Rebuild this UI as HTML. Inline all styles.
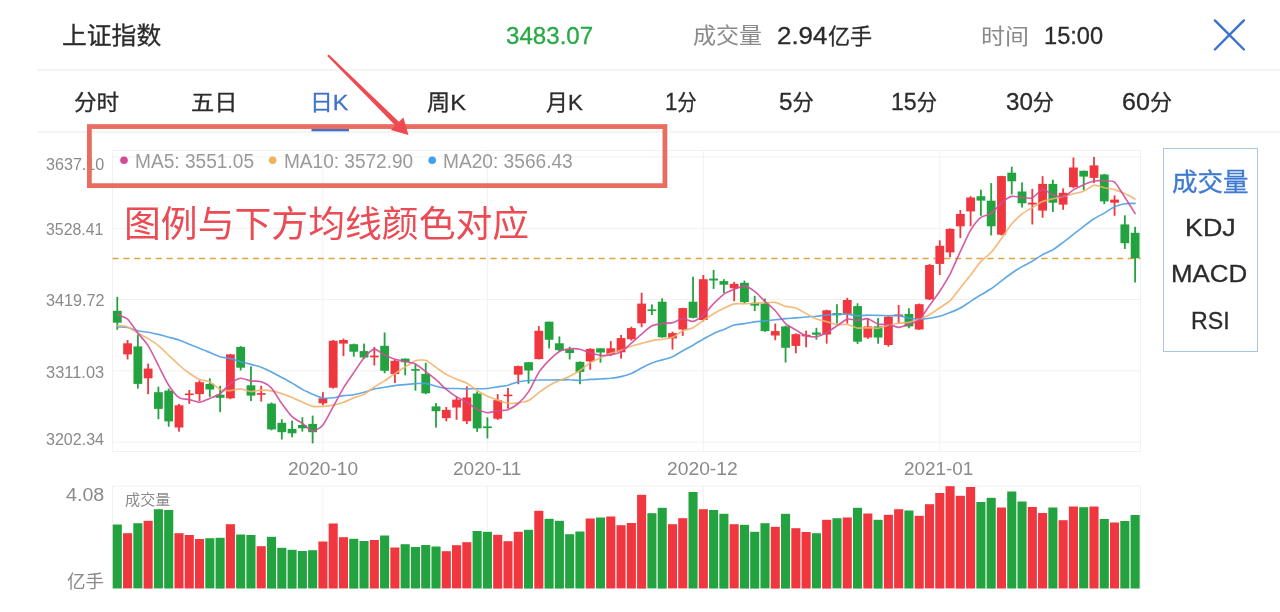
<!DOCTYPE html><html lang="zh"><head><meta charset="utf-8"><title>上证指数</title><style>
html,body{margin:0;padding:0;background:#fff}
body{width:1280px;height:612px;position:relative;overflow:hidden;font-family:"Liberation Sans","Noto Sans CJK SC",sans-serif}
.chart{position:absolute;left:0;top:0}
.t{position:absolute;white-space:nowrap;line-height:1;transform-origin:0 50%}
.b{-webkit-text-stroke:0.3px currentColor}
.n{font-size:114%;line-height:0}.k{font-size:102%;line-height:0}
</style></head><body>
<svg class="chart" width="1280" height="612" viewBox="0 0 1280 612">
<g fill="none" stroke="#f1f1f1" stroke-width="1">
<rect x="112.5" y="150.5" width="1028.0" height="301.0"/>
<line x1="112.5" y1="156.9" x2="1140.5" y2="156.9"/>
<line x1="112.5" y1="228.2" x2="1140.5" y2="228.2"/>
<line x1="112.5" y1="299.5" x2="1140.5" y2="299.5"/>
<line x1="112.5" y1="370.8" x2="1140.5" y2="370.8"/>
<line x1="112.5" y1="442.2" x2="1140.5" y2="442.2"/>
<line x1="322.9" y1="150.5" x2="322.9" y2="451.5"/>
<line x1="322.9" y1="486.0" x2="322.9" y2="588.5"/>
<line x1="487.4" y1="150.5" x2="487.4" y2="451.5"/>
<line x1="487.4" y1="486.0" x2="487.4" y2="588.5"/>
<line x1="703.3" y1="150.5" x2="703.3" y2="451.5"/>
<line x1="703.3" y1="486.0" x2="703.3" y2="588.5"/>
<line x1="939.8" y1="150.5" x2="939.8" y2="451.5"/>
<line x1="939.8" y1="486.0" x2="939.8" y2="588.5"/>
<path d="M112.5 588.5V486.0H1140.5V588.5"/>
</g>
<line x1="112.5" y1="258.5" x2="1140.5" y2="258.5" stroke="#dea544" stroke-width="1.6" stroke-dasharray="6.2 4.6"/>
<g fill="#22a33f" stroke="none">
<rect x="116.40" y="296.9" width="1.8" height="32.8"/>
<rect x="112.90" y="310.8" width="8.8" height="11.9"/>
<rect x="136.96" y="334.4" width="1.8" height="54.2"/>
<rect x="133.46" y="346.4" width="8.8" height="37.5"/>
<rect x="157.52" y="386.7" width="1.8" height="32.5"/>
<rect x="154.02" y="392.2" width="8.8" height="16.7"/>
<rect x="167.80" y="388.6" width="1.8" height="38.1"/>
<rect x="164.30" y="390.6" width="8.8" height="30.8"/>
<rect x="208.93" y="378.3" width="1.8" height="18.6"/>
<rect x="205.43" y="383.9" width="8.8" height="5.6"/>
<rect x="219.21" y="385.8" width="1.8" height="26.4"/>
<rect x="215.71" y="394.7" width="8.8" height="3.1"/>
<rect x="239.77" y="346.1" width="1.8" height="24.4"/>
<rect x="236.27" y="346.9" width="8.8" height="20.8"/>
<rect x="250.05" y="366.4" width="1.8" height="34.7"/>
<rect x="246.55" y="385.3" width="8.8" height="10.3"/>
<rect x="270.62" y="402.5" width="1.8" height="27.8"/>
<rect x="267.12" y="403.6" width="8.8" height="25.8"/>
<rect x="280.90" y="419.2" width="1.8" height="20.3"/>
<rect x="277.40" y="422.8" width="8.8" height="9.4"/>
<rect x="291.18" y="420.6" width="1.8" height="16.7"/>
<rect x="287.68" y="428.9" width="8.8" height="4.4"/>
<rect x="301.46" y="417.2" width="1.8" height="14.4"/>
<rect x="297.96" y="425.0" width="8.8" height="3.3"/>
<rect x="311.74" y="415.6" width="1.8" height="27.8"/>
<rect x="308.24" y="423.9" width="8.8" height="8.3"/>
<rect x="352.86" y="343.6" width="1.8" height="13.1"/>
<rect x="349.36" y="344.2" width="8.8" height="7.5"/>
<rect x="363.14" y="343.6" width="1.8" height="15.3"/>
<rect x="359.64" y="351.1" width="8.8" height="6.4"/>
<rect x="383.71" y="332.5" width="1.8" height="40.8"/>
<rect x="380.21" y="345.8" width="8.8" height="25.0"/>
<rect x="404.27" y="358.6" width="1.8" height="16.7"/>
<rect x="400.77" y="358.6" width="8.8" height="3.6"/>
<rect x="414.55" y="364.2" width="1.8" height="26.4"/>
<rect x="411.05" y="369.1" width="8.8" height="1.6"/>
<rect x="424.83" y="362.8" width="1.8" height="31.4"/>
<rect x="421.33" y="373.9" width="8.8" height="19.4"/>
<rect x="435.11" y="403.0" width="1.8" height="24.6"/>
<rect x="431.61" y="406.4" width="8.8" height="4.8"/>
<rect x="476.24" y="391.5" width="1.8" height="40.4"/>
<rect x="472.74" y="393.5" width="8.8" height="34.9"/>
<rect x="486.52" y="417.3" width="1.8" height="21.1"/>
<rect x="483.02" y="426.4" width="8.8" height="1.7"/>
<rect x="527.64" y="361.9" width="1.8" height="21.7"/>
<rect x="524.14" y="362.2" width="8.8" height="8.3"/>
<rect x="548.20" y="321.7" width="1.8" height="26.7"/>
<rect x="544.70" y="321.7" width="8.8" height="18.1"/>
<rect x="558.48" y="336.4" width="1.8" height="15.3"/>
<rect x="554.98" y="343.3" width="8.8" height="6.9"/>
<rect x="568.76" y="346.7" width="1.8" height="12.8"/>
<rect x="565.26" y="349.4" width="8.8" height="3.6"/>
<rect x="579.05" y="361.4" width="1.8" height="22.8"/>
<rect x="575.55" y="361.9" width="8.8" height="10.0"/>
<rect x="599.61" y="348.3" width="1.8" height="14.4"/>
<rect x="596.11" y="348.3" width="8.8" height="4.2"/>
<rect x="651.01" y="304.4" width="1.8" height="10.6"/>
<rect x="647.51" y="309.4" width="8.8" height="1.7"/>
<rect x="661.29" y="298.3" width="1.8" height="39.4"/>
<rect x="657.79" y="301.7" width="8.8" height="35.6"/>
<rect x="692.14" y="276.7" width="1.8" height="41.7"/>
<rect x="688.64" y="301.7" width="8.8" height="16.1"/>
<rect x="712.70" y="270.0" width="1.8" height="18.9"/>
<rect x="709.20" y="278.6" width="8.8" height="1.9"/>
<rect x="722.98" y="279.2" width="1.8" height="13.9"/>
<rect x="719.48" y="281.1" width="8.8" height="3.6"/>
<rect x="743.54" y="280.6" width="1.8" height="22.8"/>
<rect x="740.04" y="282.8" width="8.8" height="19.4"/>
<rect x="753.82" y="295.8" width="1.8" height="15.3"/>
<rect x="750.32" y="302.8" width="8.8" height="2.8"/>
<rect x="764.10" y="298.6" width="1.8" height="33.3"/>
<rect x="760.60" y="303.6" width="8.8" height="27.5"/>
<rect x="784.66" y="325.6" width="1.8" height="36.9"/>
<rect x="781.16" y="326.4" width="8.8" height="21.4"/>
<rect x="815.51" y="327.8" width="1.8" height="11.9"/>
<rect x="812.01" y="332.5" width="8.8" height="2.2"/>
<rect x="836.07" y="304.2" width="1.8" height="19.4"/>
<rect x="832.57" y="313.1" width="8.8" height="2.2"/>
<rect x="856.63" y="303.3" width="1.8" height="40.6"/>
<rect x="853.13" y="306.1" width="8.8" height="35.6"/>
<rect x="877.19" y="318.1" width="1.8" height="25.6"/>
<rect x="873.69" y="326.4" width="8.8" height="11.1"/>
<rect x="908.04" y="308.3" width="1.8" height="20.0"/>
<rect x="904.54" y="313.9" width="8.8" height="12.5"/>
<rect x="980.00" y="189.7" width="1.8" height="26.1"/>
<rect x="976.50" y="196.2" width="8.8" height="4.4"/>
<rect x="990.29" y="183.1" width="1.8" height="52.3"/>
<rect x="986.79" y="200.7" width="8.8" height="25.6"/>
<rect x="1010.85" y="166.7" width="1.8" height="27.7"/>
<rect x="1007.35" y="172.7" width="8.8" height="8.6"/>
<rect x="1021.13" y="182.4" width="1.8" height="25.1"/>
<rect x="1017.63" y="191.5" width="8.8" height="11.8"/>
<rect x="1051.97" y="179.7" width="1.8" height="32.2"/>
<rect x="1048.47" y="183.9" width="8.8" height="18.8"/>
<rect x="1082.81" y="170.6" width="1.8" height="19.6"/>
<rect x="1079.31" y="170.8" width="8.8" height="5.8"/>
<rect x="1103.38" y="174.0" width="1.8" height="30.1"/>
<rect x="1099.88" y="174.5" width="8.8" height="26.9"/>
<rect x="1123.94" y="215.3" width="1.8" height="33.7"/>
<rect x="1120.44" y="224.4" width="8.8" height="18.8"/>
<rect x="1134.22" y="226.8" width="1.8" height="55.7"/>
<rect x="1130.72" y="232.8" width="8.8" height="25.4"/>
</g>
<g fill="#f0363e" stroke="none">
<rect x="126.68" y="340.0" width="1.8" height="19.4"/>
<rect x="123.18" y="343.3" width="8.8" height="11.1"/>
<rect x="147.24" y="363.6" width="1.8" height="30.6"/>
<rect x="143.74" y="368.6" width="8.8" height="9.7"/>
<rect x="178.09" y="403.9" width="1.8" height="27.8"/>
<rect x="174.59" y="405.3" width="8.8" height="22.2"/>
<rect x="188.37" y="390.0" width="1.8" height="13.9"/>
<rect x="184.87" y="393.5" width="8.8" height="1.6"/>
<rect x="198.65" y="380.3" width="1.8" height="20.8"/>
<rect x="195.15" y="382.2" width="8.8" height="11.9"/>
<rect x="229.49" y="353.9" width="1.8" height="45.3"/>
<rect x="225.99" y="354.4" width="8.8" height="43.9"/>
<rect x="260.33" y="385.8" width="1.8" height="15.8"/>
<rect x="256.83" y="393.1" width="8.8" height="1.7"/>
<rect x="322.02" y="392.2" width="1.8" height="13.1"/>
<rect x="318.52" y="398.3" width="8.8" height="5.0"/>
<rect x="332.30" y="340.0" width="1.8" height="48.6"/>
<rect x="328.80" y="340.8" width="8.8" height="46.9"/>
<rect x="342.58" y="338.6" width="1.8" height="17.5"/>
<rect x="339.08" y="340.0" width="8.8" height="3.6"/>
<rect x="373.43" y="346.9" width="1.8" height="18.6"/>
<rect x="369.93" y="355.6" width="8.8" height="1.7"/>
<rect x="393.99" y="359.4" width="1.8" height="23.6"/>
<rect x="390.49" y="360.8" width="8.8" height="13.3"/>
<rect x="445.39" y="407.0" width="1.8" height="14.3"/>
<rect x="441.89" y="409.9" width="8.8" height="8.2"/>
<rect x="455.67" y="396.6" width="1.8" height="23.2"/>
<rect x="452.17" y="399.6" width="8.8" height="7.9"/>
<rect x="465.95" y="386.3" width="1.8" height="37.8"/>
<rect x="462.45" y="397.5" width="8.8" height="23.7"/>
<rect x="496.80" y="394.1" width="1.8" height="25.8"/>
<rect x="493.30" y="400.1" width="8.8" height="18.6"/>
<rect x="507.08" y="388.0" width="1.8" height="20.6"/>
<rect x="503.58" y="394.6" width="8.8" height="1.6"/>
<rect x="517.36" y="365.6" width="1.8" height="18.6"/>
<rect x="513.86" y="366.1" width="8.8" height="8.6"/>
<rect x="537.92" y="326.1" width="1.8" height="33.3"/>
<rect x="534.42" y="330.8" width="8.8" height="28.3"/>
<rect x="589.33" y="348.3" width="1.8" height="21.4"/>
<rect x="585.83" y="348.9" width="8.8" height="12.5"/>
<rect x="609.89" y="341.1" width="1.8" height="14.7"/>
<rect x="606.39" y="348.3" width="8.8" height="5.6"/>
<rect x="620.17" y="335.0" width="1.8" height="23.6"/>
<rect x="616.67" y="338.1" width="8.8" height="14.2"/>
<rect x="630.45" y="326.7" width="1.8" height="13.9"/>
<rect x="626.95" y="328.1" width="8.8" height="11.1"/>
<rect x="640.73" y="292.8" width="1.8" height="34.4"/>
<rect x="637.23" y="303.6" width="8.8" height="19.7"/>
<rect x="671.57" y="331.7" width="1.8" height="17.8"/>
<rect x="668.07" y="333.1" width="8.8" height="5.3"/>
<rect x="681.86" y="307.8" width="1.8" height="28.1"/>
<rect x="678.36" y="308.1" width="8.8" height="21.4"/>
<rect x="702.42" y="275.0" width="1.8" height="46.4"/>
<rect x="698.92" y="279.2" width="8.8" height="40.8"/>
<rect x="733.26" y="281.9" width="1.8" height="19.4"/>
<rect x="729.76" y="283.9" width="8.8" height="4.4"/>
<rect x="774.38" y="323.6" width="1.8" height="16.7"/>
<rect x="770.88" y="331.1" width="8.8" height="4.4"/>
<rect x="794.95" y="333.3" width="1.8" height="20.0"/>
<rect x="791.45" y="334.2" width="8.8" height="11.7"/>
<rect x="805.23" y="330.6" width="1.8" height="16.7"/>
<rect x="801.73" y="334.8" width="8.8" height="1.6"/>
<rect x="825.79" y="309.7" width="1.8" height="33.9"/>
<rect x="822.29" y="310.3" width="8.8" height="24.2"/>
<rect x="846.35" y="297.8" width="1.8" height="25.8"/>
<rect x="842.85" y="300.0" width="8.8" height="13.9"/>
<rect x="866.91" y="318.1" width="1.8" height="20.8"/>
<rect x="863.41" y="326.4" width="8.8" height="11.1"/>
<rect x="887.48" y="316.1" width="1.8" height="30.6"/>
<rect x="883.98" y="316.7" width="8.8" height="28.3"/>
<rect x="897.76" y="305.0" width="1.8" height="18.6"/>
<rect x="894.26" y="314.5" width="8.8" height="1.6"/>
<rect x="918.32" y="303.6" width="1.8" height="26.4"/>
<rect x="914.82" y="304.2" width="8.8" height="25.3"/>
<rect x="928.60" y="263.9" width="1.8" height="36.1"/>
<rect x="925.10" y="265.0" width="8.8" height="34.4"/>
<rect x="938.88" y="240.3" width="1.8" height="34.7"/>
<rect x="935.38" y="245.8" width="8.8" height="18.1"/>
<rect x="949.16" y="228.4" width="1.8" height="28.8"/>
<rect x="945.66" y="228.9" width="8.8" height="23.5"/>
<rect x="959.44" y="210.1" width="1.8" height="28.0"/>
<rect x="955.94" y="214.0" width="8.8" height="12.3"/>
<rect x="969.72" y="196.2" width="1.8" height="30.1"/>
<rect x="966.22" y="197.5" width="8.8" height="13.9"/>
<rect x="1000.57" y="175.8" width="1.8" height="59.6"/>
<rect x="997.07" y="176.1" width="8.8" height="58.6"/>
<rect x="1031.41" y="188.9" width="1.8" height="35.6"/>
<rect x="1027.91" y="202.7" width="8.8" height="1.8"/>
<rect x="1041.69" y="176.1" width="1.8" height="41.6"/>
<rect x="1038.19" y="183.9" width="8.8" height="26.7"/>
<rect x="1062.25" y="188.4" width="1.8" height="21.4"/>
<rect x="1058.75" y="192.8" width="8.8" height="11.8"/>
<rect x="1072.53" y="157.5" width="1.8" height="30.8"/>
<rect x="1069.03" y="167.5" width="8.8" height="19.6"/>
<rect x="1093.10" y="157.0" width="1.8" height="26.1"/>
<rect x="1089.60" y="165.4" width="8.8" height="12.5"/>
<rect x="1113.66" y="195.4" width="1.8" height="20.4"/>
<rect x="1110.16" y="199.6" width="8.8" height="3.1"/>
</g>
<path d="M117.3 326.9C118.4 327.0 125.3 327.1 127.6 327.5C129.8 327.9 135.6 330.3 137.9 330.8C140.1 331.4 145.9 331.8 148.1 332.2C150.4 332.6 156.2 333.9 158.4 334.4C160.7 335.0 166.4 336.6 168.7 337.2C171.0 337.8 176.7 339.2 179.0 340.0C181.2 340.8 187.0 343.2 189.3 344.2C191.5 345.1 197.3 347.4 199.5 348.3C201.8 349.2 207.6 351.6 209.8 352.5C212.1 353.4 217.8 356.0 220.1 356.7C222.4 357.3 228.1 358.1 230.4 358.6C232.7 359.2 238.4 361.0 240.7 361.7C242.9 362.3 248.7 363.8 251.0 364.4C253.2 365.1 259.0 366.4 261.2 367.2C263.5 368.0 269.3 370.8 271.5 371.9C273.8 373.1 279.5 376.3 281.8 377.5C284.1 378.7 289.8 381.7 292.1 383.1C294.3 384.4 300.1 388.2 302.4 389.4C304.6 390.7 310.4 393.2 312.6 394.2C314.9 395.1 320.7 397.6 322.9 398.0C325.2 398.4 330.9 398.1 333.2 397.8C335.5 397.6 341.2 396.0 343.5 395.6C345.7 395.3 351.5 395.2 353.8 394.8C356.0 394.4 361.8 392.9 364.0 392.2C366.3 391.6 372.1 389.5 374.3 388.9C376.6 388.4 382.3 387.6 384.6 387.2C386.9 386.8 392.6 385.9 394.9 385.6C397.1 385.3 402.9 384.8 405.2 384.6C407.4 384.4 413.2 383.8 415.4 383.6C417.7 383.5 423.5 383.1 425.7 383.4C428.0 383.7 433.7 385.7 436.0 386.2C438.3 386.8 444.0 388.1 446.3 388.3C448.6 388.6 454.3 388.5 456.6 388.5C458.8 388.6 464.6 388.8 466.9 388.8C469.1 388.8 474.9 388.7 477.1 388.7C479.4 388.7 485.2 388.7 487.4 388.5C489.7 388.3 495.4 387.2 497.7 386.9C500.0 386.5 505.7 385.7 508.0 385.2C510.2 384.6 516.0 382.4 518.3 381.9C520.5 381.3 526.3 380.7 528.5 380.5C530.8 380.3 536.6 380.0 538.8 380.0C541.1 379.9 546.8 380.0 549.1 380.0C551.4 379.9 557.1 379.9 559.4 379.9C561.6 379.9 567.4 379.6 569.7 379.7C571.9 379.7 577.7 380.5 579.9 380.5C582.2 380.5 588.0 379.6 590.2 379.4C592.5 379.2 598.2 379.1 600.5 379.0C602.8 378.8 608.5 378.5 610.8 378.3C613.0 378.0 618.8 377.2 621.1 376.6C623.3 376.1 629.1 374.3 631.4 373.4C633.6 372.4 639.4 369.1 641.6 368.0C643.9 366.9 649.7 364.0 651.9 363.1C654.2 362.2 659.9 360.6 662.2 359.9C664.5 359.3 670.2 357.7 672.5 356.7C674.7 355.7 680.5 352.0 682.8 350.7C685.0 349.4 690.8 346.5 693.0 345.2C695.3 343.9 701.1 340.4 703.3 339.1C705.6 337.9 711.3 334.5 713.6 333.4C715.9 332.4 721.6 330.3 723.9 329.4C726.1 328.5 731.9 325.7 734.2 325.0C736.4 324.4 742.2 324.0 744.4 323.6C746.7 323.3 752.5 322.2 754.7 321.9C757.0 321.6 762.7 321.2 765.0 320.9C767.3 320.7 773.0 320.1 775.3 319.8C777.5 319.6 783.3 318.9 785.6 318.6C787.8 318.4 793.6 318.1 795.8 317.9C798.1 317.7 803.9 317.2 806.1 317.0C808.4 316.9 814.1 316.6 816.4 316.3C818.7 316.1 824.4 315.2 826.7 315.0C829.0 314.7 834.7 314.4 837.0 314.3C839.2 314.2 845.0 314.0 847.3 314.1C849.5 314.3 855.3 315.6 857.5 315.7C859.8 315.8 865.6 315.2 867.8 315.1C870.1 315.1 875.8 315.3 878.1 315.3C880.4 315.4 886.1 315.7 888.4 315.8C890.6 315.8 896.4 315.4 898.7 315.6C900.9 315.9 906.7 317.6 908.9 318.0C911.2 318.4 917.0 319.1 919.2 319.2C921.5 319.2 927.2 318.5 929.5 318.2C931.8 317.9 937.5 316.9 939.8 316.3C942.0 315.7 947.8 313.5 950.1 312.6C952.3 311.7 958.1 309.3 960.3 308.0C962.6 306.8 968.4 302.8 970.6 301.4C972.9 299.9 978.6 296.2 980.9 294.8C983.2 293.4 988.9 290.3 991.2 288.8C993.4 287.2 999.2 282.6 1001.5 280.9C1003.7 279.1 1009.5 274.7 1011.7 273.2C1014.0 271.6 1019.8 267.9 1022.0 266.6C1024.3 265.3 1030.0 262.5 1032.3 261.2C1034.6 259.9 1040.3 255.9 1042.6 254.6C1044.9 253.4 1050.6 251.1 1052.9 249.8C1055.1 248.4 1060.9 244.0 1063.2 242.3C1065.4 240.7 1071.2 236.2 1073.4 234.4C1075.7 232.6 1081.5 228.1 1083.7 226.4C1086.0 224.6 1091.7 220.2 1094.0 218.8C1096.3 217.3 1102.0 214.4 1104.3 213.1C1106.5 211.8 1112.3 207.8 1114.6 206.8C1116.8 205.8 1122.6 204.1 1124.8 203.7C1127.1 203.4 1134.0 203.4 1135.1 203.4" fill="none" stroke="#4f9fe3" stroke-width="1.65" stroke-opacity="0.9" stroke-linejoin="round" stroke-linecap="round"/>
<path d="M117.3 325.6C118.4 325.7 125.3 326.1 127.6 326.9C129.8 327.8 135.6 331.8 137.9 333.1C140.1 334.3 145.9 337.2 148.1 338.6C150.4 340.0 156.2 343.7 158.4 345.6C160.7 347.4 166.4 353.1 168.7 355.3C171.0 357.4 176.7 363.0 179.0 365.0C181.2 367.0 187.0 371.7 189.3 373.3C191.5 374.9 197.3 378.5 199.5 379.4C201.8 380.4 207.6 380.8 209.8 381.9C212.1 383.0 217.8 388.5 220.1 389.4C222.4 390.4 228.1 390.6 230.4 390.6C232.7 390.5 238.4 388.8 240.7 388.9C242.9 389.1 248.7 391.5 251.0 391.6C253.2 391.8 259.0 390.1 261.2 390.1C263.5 390.0 269.3 390.5 271.5 390.9C273.8 391.2 279.5 392.8 281.8 393.6C284.1 394.3 289.8 396.6 292.1 397.5C294.3 398.5 300.1 401.2 302.4 402.1C304.6 403.1 310.4 405.9 312.6 406.4C314.9 406.9 320.7 406.6 322.9 406.5C325.2 406.3 330.9 405.6 333.2 405.1C335.5 404.7 341.2 403.1 343.5 402.3C345.7 401.5 351.5 398.8 353.8 397.9C356.0 397.1 361.8 395.6 364.0 394.4C366.3 393.2 372.1 388.5 374.3 387.0C376.6 385.5 382.3 382.3 384.6 380.9C386.9 379.4 392.6 375.1 394.9 373.6C397.1 372.1 402.9 368.4 405.2 367.0C407.4 365.6 413.2 361.6 415.4 360.8C417.7 360.1 423.5 359.6 425.7 360.3C428.0 361.1 433.7 365.8 436.0 367.4C438.3 368.9 444.0 373.1 446.3 374.4C448.6 375.7 454.3 378.2 456.6 379.2C458.8 380.1 464.6 381.9 466.9 383.2C469.1 384.4 474.9 389.0 477.1 390.4C479.4 391.9 485.2 395.1 487.4 396.2C489.7 397.2 495.4 399.3 497.7 400.1C500.0 400.9 505.7 403.0 508.0 403.3C510.2 403.6 516.0 403.2 518.3 402.9C520.5 402.6 526.3 401.7 528.5 400.6C530.8 399.5 536.6 394.2 538.8 392.6C541.1 390.9 546.8 386.9 549.1 385.5C551.4 384.2 557.1 381.6 559.4 380.6C561.6 379.6 567.4 377.3 569.7 376.2C571.9 375.1 577.7 372.0 579.9 370.5C582.2 369.0 588.0 364.0 590.2 362.6C592.5 361.2 598.2 358.9 600.5 357.8C602.8 356.8 608.5 354.0 610.8 353.2C613.0 352.4 618.8 351.2 621.1 350.4C623.3 349.6 629.1 346.9 631.4 346.2C633.6 345.4 639.4 344.1 641.6 343.4C643.9 342.8 649.7 341.0 651.9 340.6C654.2 340.1 659.9 339.6 662.2 339.3C664.5 338.9 670.2 338.2 672.5 337.3C674.7 336.4 680.5 331.9 682.8 330.9C685.0 329.8 690.8 328.9 693.0 327.8C695.3 326.6 701.1 322.0 703.3 320.4C705.6 318.9 711.3 315.0 713.6 313.7C715.9 312.3 721.6 309.4 723.9 308.3C726.1 307.3 731.9 304.4 734.2 303.9C736.4 303.4 742.2 303.9 744.4 303.8C746.7 303.7 752.5 303.4 754.7 303.2C757.0 303.1 762.7 302.7 765.0 302.6C767.3 302.5 773.0 302.0 775.3 302.4C777.5 302.8 783.3 305.8 785.6 306.4C787.8 307.0 793.6 307.2 795.8 308.0C798.1 308.8 803.9 312.4 806.1 313.6C808.4 314.8 814.1 318.2 816.4 319.0C818.7 319.9 824.4 321.0 826.7 321.6C829.0 322.2 834.7 324.4 837.0 324.7C839.2 325.0 845.0 324.1 847.3 324.5C849.5 324.9 855.3 327.8 857.5 328.1C859.8 328.5 865.6 327.6 867.8 327.6C870.1 327.7 875.8 328.5 878.1 328.3C880.4 328.0 886.1 325.7 888.4 325.2C890.6 324.6 896.4 323.5 898.7 323.2C900.9 322.9 906.7 322.8 908.9 322.4C911.2 321.9 917.0 320.1 919.2 319.3C921.5 318.5 927.2 316.0 929.5 314.8C931.8 313.5 937.5 309.4 939.8 307.8C942.0 306.3 947.8 302.9 950.1 300.7C952.3 298.5 958.1 290.8 960.3 288.0C962.6 285.1 968.4 278.0 970.6 275.1C972.9 272.1 978.6 263.9 980.9 261.4C983.2 258.9 988.9 254.9 991.2 252.3C993.4 249.8 999.2 241.6 1001.5 238.5C1003.7 235.4 1009.5 226.7 1011.7 224.0C1014.0 221.3 1019.8 215.7 1022.0 213.9C1024.3 212.1 1030.0 209.0 1032.3 207.7C1034.6 206.3 1040.3 202.4 1042.6 201.5C1044.9 200.5 1050.6 199.4 1052.9 198.8C1055.1 198.3 1060.9 197.3 1063.2 196.7C1065.4 196.2 1071.2 194.3 1073.4 193.7C1075.7 193.1 1081.5 192.3 1083.7 191.3C1086.0 190.4 1091.7 185.6 1094.0 185.2C1096.3 184.8 1102.0 187.3 1104.3 187.8C1106.5 188.2 1112.3 189.0 1114.6 189.6C1116.8 190.2 1122.6 192.5 1124.8 193.6C1127.1 194.6 1134.0 198.5 1135.1 199.1" fill="none" stroke="#f2b36c" stroke-width="1.65" stroke-opacity="0.9" stroke-linejoin="round" stroke-linecap="round"/>
<path d="M117.3 314.4C118.4 315.0 125.3 317.1 127.6 319.2C129.8 321.2 135.6 330.2 137.9 333.1C140.1 336.0 145.9 342.0 148.1 345.6C150.4 349.1 156.2 361.1 158.4 365.5C160.7 369.9 166.4 381.7 168.7 385.2C171.0 388.8 176.7 396.0 179.0 397.6C181.2 399.2 187.0 399.0 189.3 399.6C191.5 400.1 197.3 402.4 199.5 402.3C201.8 402.1 207.6 399.3 209.8 398.4C212.1 397.4 217.8 395.3 220.1 393.7C222.4 392.0 228.1 385.2 230.4 383.5C232.7 381.8 238.4 378.6 240.7 378.3C242.9 378.1 248.7 380.6 251.0 381.0C253.2 381.4 259.0 380.9 261.2 381.7C263.5 382.5 269.3 385.6 271.5 388.1C273.8 390.5 279.5 400.5 281.8 403.6C284.1 406.8 289.8 414.6 292.1 416.7C294.3 418.9 300.1 421.7 302.4 423.3C304.6 424.9 310.4 430.9 312.6 431.1C314.9 431.3 320.7 427.6 322.9 424.9C325.2 422.2 330.9 410.7 333.2 406.6C335.5 402.5 341.2 391.7 343.5 387.9C345.7 384.2 351.5 375.9 353.8 372.6C356.0 369.3 361.8 360.3 364.0 357.7C366.3 355.1 372.1 349.4 374.3 349.1C376.6 348.8 382.3 354.0 384.6 355.1C386.9 356.2 392.6 358.6 394.9 359.3C397.1 360.0 402.9 360.9 405.2 361.4C407.4 361.9 413.2 362.9 415.4 364.0C417.7 365.1 423.5 369.8 425.7 371.6C428.0 373.3 433.7 377.7 436.0 379.6C438.3 381.6 444.0 387.5 446.3 389.4C448.6 391.3 454.3 395.5 456.6 396.9C458.8 398.3 464.6 400.9 466.9 402.3C469.1 403.7 474.9 408.2 477.1 409.3C479.4 410.5 485.2 412.5 487.4 412.7C489.7 412.8 495.4 411.1 497.7 410.7C500.0 410.4 505.7 410.5 508.0 409.7C510.2 408.9 516.0 405.4 518.3 403.5C520.5 401.5 526.3 395.3 528.5 391.9C530.8 388.5 536.6 375.9 538.8 372.4C541.1 369.0 546.8 362.7 549.1 360.4C551.4 358.1 557.1 352.8 559.4 351.5C561.6 350.2 567.4 349.1 569.7 348.9C571.9 348.6 577.7 348.7 579.9 349.2C582.2 349.6 588.0 352.1 590.2 352.8C592.5 353.5 598.2 355.1 600.5 355.3C602.8 355.6 608.5 355.3 610.8 354.9C613.0 354.6 618.8 353.2 621.1 351.9C623.3 350.6 629.1 345.1 631.4 343.2C633.6 341.2 639.4 336.0 641.6 334.1C643.9 332.2 649.7 327.0 651.9 325.8C654.2 324.7 659.9 324.0 662.2 323.6C664.5 323.3 670.2 323.2 672.5 322.6C674.7 322.1 680.5 318.7 682.8 318.6C685.0 318.5 690.8 321.8 693.0 321.4C695.3 321.1 701.1 317.0 703.3 315.1C705.6 313.1 711.3 306.0 713.6 303.7C715.9 301.4 721.6 295.7 723.9 294.1C726.1 292.5 731.9 290.1 734.2 289.2C736.4 288.3 742.2 285.9 744.4 286.1C746.7 286.3 752.5 289.7 754.7 291.4C757.0 293.1 762.7 299.4 765.0 301.5C767.3 303.6 773.0 308.4 775.3 310.8C777.5 313.2 783.3 321.4 785.6 323.6C787.8 325.7 793.6 328.6 795.8 329.9C798.1 331.3 803.9 335.1 806.1 335.8C808.4 336.6 814.1 336.9 816.4 336.6C818.7 336.2 824.4 333.6 826.7 332.4C829.0 331.2 834.7 327.4 837.0 325.9C839.2 324.4 845.0 319.7 847.3 319.1C849.5 318.5 855.3 320.4 857.5 320.4C859.8 320.4 865.6 318.3 867.8 318.7C870.1 319.1 875.8 323.5 878.1 324.2C880.4 324.8 886.1 324.1 888.4 324.4C890.6 324.8 896.4 327.4 898.7 327.4C900.9 327.4 906.7 325.2 908.9 324.3C911.2 323.5 917.0 322.0 919.2 319.9C921.5 317.8 927.2 308.5 929.5 305.4C931.8 302.2 937.5 294.7 939.8 291.2C942.0 287.8 947.8 278.4 950.1 274.1C952.3 269.7 958.1 256.4 960.3 251.6C962.6 246.8 968.4 234.0 970.6 230.2C972.9 226.5 978.6 219.2 980.9 217.4C983.2 215.5 988.9 215.1 991.2 213.5C993.4 211.9 999.2 204.8 1001.5 202.9C1003.7 201.0 1009.5 197.0 1011.7 196.4C1014.0 195.8 1019.8 197.3 1022.0 197.5C1024.3 197.7 1030.0 198.8 1032.3 197.9C1034.6 197.0 1040.3 189.8 1042.6 189.5C1044.9 189.1 1050.6 194.0 1052.9 194.8C1055.1 195.6 1060.9 197.6 1063.2 197.1C1065.4 196.6 1071.2 191.3 1073.4 189.9C1075.7 188.6 1081.5 185.7 1083.7 184.7C1086.0 183.7 1091.7 181.4 1094.0 181.0C1096.3 180.6 1102.0 180.6 1104.3 180.7C1106.5 180.9 1112.3 180.3 1114.6 182.1C1116.8 183.9 1122.6 193.8 1124.8 197.3C1127.1 200.7 1134.0 211.8 1135.1 213.6" fill="none" stroke="#d24b9b" stroke-width="1.65" stroke-opacity="0.9" stroke-linejoin="round" stroke-linecap="round"/>
<g fill="#22a33f">
<rect x="112.75" y="524.5" width="9.1" height="64.0"/>
<rect x="133.31" y="523.2" width="9.1" height="65.2"/>
<rect x="153.87" y="509.2" width="9.1" height="79.2"/>
<rect x="164.16" y="510.0" width="9.1" height="78.5"/>
<rect x="205.28" y="538.2" width="9.1" height="50.2"/>
<rect x="215.56" y="537.8" width="9.1" height="50.8"/>
<rect x="236.12" y="534.5" width="9.1" height="54.0"/>
<rect x="246.40" y="535.0" width="9.1" height="53.5"/>
<rect x="266.97" y="536.8" width="9.1" height="51.8"/>
<rect x="277.25" y="547.8" width="9.1" height="40.8"/>
<rect x="287.53" y="549.8" width="9.1" height="38.8"/>
<rect x="297.81" y="551.0" width="9.1" height="37.5"/>
<rect x="308.09" y="550.2" width="9.1" height="38.2"/>
<rect x="349.21" y="538.8" width="9.1" height="49.8"/>
<rect x="359.49" y="541.0" width="9.1" height="47.5"/>
<rect x="380.06" y="535.5" width="9.1" height="53.0"/>
<rect x="400.62" y="544.2" width="9.1" height="44.2"/>
<rect x="410.90" y="547.0" width="9.1" height="41.5"/>
<rect x="421.18" y="545.0" width="9.1" height="43.5"/>
<rect x="431.46" y="546.5" width="9.1" height="42.0"/>
<rect x="472.59" y="531.0" width="9.1" height="57.5"/>
<rect x="482.87" y="531.8" width="9.1" height="56.8"/>
<rect x="523.99" y="529.8" width="9.1" height="58.8"/>
<rect x="544.55" y="518.8" width="9.1" height="69.8"/>
<rect x="554.83" y="520.8" width="9.1" height="67.8"/>
<rect x="565.11" y="534.2" width="9.1" height="54.2"/>
<rect x="575.39" y="531.5" width="9.1" height="57.0"/>
<rect x="595.96" y="517.5" width="9.1" height="71.0"/>
<rect x="647.36" y="513.2" width="9.1" height="75.2"/>
<rect x="657.64" y="507.8" width="9.1" height="80.8"/>
<rect x="688.49" y="492.0" width="9.1" height="96.5"/>
<rect x="709.05" y="510.0" width="9.1" height="78.5"/>
<rect x="719.33" y="513.8" width="9.1" height="74.8"/>
<rect x="739.89" y="524.8" width="9.1" height="63.8"/>
<rect x="750.17" y="531.8" width="9.1" height="56.8"/>
<rect x="760.45" y="523.2" width="9.1" height="65.2"/>
<rect x="781.01" y="513.8" width="9.1" height="74.8"/>
<rect x="811.86" y="533.2" width="9.1" height="55.2"/>
<rect x="832.42" y="518.2" width="9.1" height="70.2"/>
<rect x="852.98" y="507.8" width="9.1" height="80.8"/>
<rect x="873.54" y="519.8" width="9.1" height="68.8"/>
<rect x="904.39" y="510.5" width="9.1" height="78.0"/>
<rect x="976.35" y="502.0" width="9.1" height="86.5"/>
<rect x="986.64" y="497.8" width="9.1" height="90.8"/>
<rect x="1007.20" y="491.5" width="9.1" height="97.0"/>
<rect x="1017.48" y="501.5" width="9.1" height="87.0"/>
<rect x="1048.32" y="507.5" width="9.1" height="81.0"/>
<rect x="1079.16" y="507.2" width="9.1" height="81.2"/>
<rect x="1099.73" y="519.0" width="9.1" height="69.5"/>
<rect x="1120.29" y="521.0" width="9.1" height="67.5"/>
<rect x="1130.57" y="515.0" width="9.1" height="73.5"/>
</g>
<g fill="#f0363e">
<rect x="123.03" y="533.2" width="9.1" height="55.2"/>
<rect x="143.59" y="520.8" width="9.1" height="67.8"/>
<rect x="174.44" y="533.2" width="9.1" height="55.2"/>
<rect x="184.72" y="535.0" width="9.1" height="53.5"/>
<rect x="195.00" y="539.0" width="9.1" height="49.5"/>
<rect x="225.84" y="524.2" width="9.1" height="64.2"/>
<rect x="256.68" y="546.2" width="9.1" height="42.2"/>
<rect x="318.37" y="541.5" width="9.1" height="47.0"/>
<rect x="328.65" y="523.5" width="9.1" height="65.0"/>
<rect x="338.93" y="537.2" width="9.1" height="51.2"/>
<rect x="369.78" y="540.0" width="9.1" height="48.5"/>
<rect x="390.34" y="547.5" width="9.1" height="41.0"/>
<rect x="441.74" y="551.2" width="9.1" height="37.2"/>
<rect x="452.02" y="545.2" width="9.1" height="43.2"/>
<rect x="462.30" y="542.2" width="9.1" height="46.2"/>
<rect x="493.15" y="534.8" width="9.1" height="53.8"/>
<rect x="503.43" y="541.2" width="9.1" height="47.2"/>
<rect x="513.71" y="531.8" width="9.1" height="56.8"/>
<rect x="534.27" y="510.8" width="9.1" height="77.8"/>
<rect x="585.68" y="518.5" width="9.1" height="70.0"/>
<rect x="606.24" y="516.5" width="9.1" height="72.0"/>
<rect x="616.52" y="525.2" width="9.1" height="63.2"/>
<rect x="626.80" y="523.0" width="9.1" height="65.5"/>
<rect x="637.08" y="494.8" width="9.1" height="93.8"/>
<rect x="667.92" y="524.2" width="9.1" height="64.2"/>
<rect x="678.21" y="518.2" width="9.1" height="70.2"/>
<rect x="698.77" y="509.2" width="9.1" height="79.2"/>
<rect x="729.61" y="524.2" width="9.1" height="64.2"/>
<rect x="770.73" y="526.8" width="9.1" height="61.8"/>
<rect x="791.30" y="528.2" width="9.1" height="60.2"/>
<rect x="801.58" y="532.0" width="9.1" height="56.5"/>
<rect x="822.14" y="519.8" width="9.1" height="68.8"/>
<rect x="842.70" y="517.5" width="9.1" height="71.0"/>
<rect x="863.26" y="513.5" width="9.1" height="75.0"/>
<rect x="883.83" y="514.8" width="9.1" height="73.8"/>
<rect x="894.11" y="509.2" width="9.1" height="79.2"/>
<rect x="914.67" y="515.8" width="9.1" height="72.8"/>
<rect x="924.95" y="504.2" width="9.1" height="84.2"/>
<rect x="935.23" y="493.0" width="9.1" height="95.5"/>
<rect x="945.51" y="486.2" width="9.1" height="102.2"/>
<rect x="955.79" y="495.8" width="9.1" height="92.8"/>
<rect x="966.07" y="487.0" width="9.1" height="101.5"/>
<rect x="996.92" y="507.5" width="9.1" height="81.0"/>
<rect x="1027.76" y="507.0" width="9.1" height="81.5"/>
<rect x="1038.04" y="513.0" width="9.1" height="75.5"/>
<rect x="1058.60" y="520.2" width="9.1" height="68.2"/>
<rect x="1068.88" y="506.5" width="9.1" height="82.0"/>
<rect x="1089.45" y="506.5" width="9.1" height="82.0"/>
<rect x="1110.01" y="522.5" width="9.1" height="66.0"/>
</g>
<path d="M1214.9 20.4L1243.9 49.5M1243.9 20.4L1214.9 49.5" stroke="#3a70d0" stroke-width="2.4" stroke-linecap="round" fill="none"/>
<line x1="37" y1="70" x2="1280" y2="70" stroke="#e9e9e9"/>
<line x1="38" y1="132" x2="1280" y2="132" stroke="#e9e9e9"/>
<rect x="311.5" y="128.4" width="37.5" height="2.9" fill="#3e73c8"/>
<circle cx="124" cy="160.3" r="3.8" fill="#d24b9b"/>
<circle cx="272.6" cy="160.3" r="3.8" fill="#f0b458"/>
<circle cx="432.2" cy="160.3" r="3.8" fill="#3f9ff0"/>
<rect x="1163.5" y="148.5" width="94" height="203" fill="#fff" stroke="#a9c5e6"/>
</svg>
<div class="t b" id="t0" style="left:62.00px;top:36.50px;font-size:23.7px;color:#2b2b2b;transform:translateY(-50%) scaleX(1.0468)">上证指数</div>
<div class="t b" id="t1" style="left:506.40px;top:35.60px;font-size:24.6px;color:#2aa845;transform:translateY(-50%) scaleX(0.9809)">3483.07</div>
<div class="t" id="t2" style="left:692.64px;top:36.01px;font-size:21.6px;color:#8a8a8a;transform:translateY(-50%) scaleX(1.0644)">成交量</div>
<div class="t b" id="t3" style="left:777.24px;top:35.60px;font-size:24.6px;color:#2b2b2b;transform:translateY(-50%) scaleX(1.0523)">2.94</div>
<div class="t b" id="t4" style="left:827.62px;top:36.50px;font-size:21.6px;color:#2b2b2b;transform:translateY(-50%) scaleX(1.0233)">亿手</div>
<div class="t" id="t5" style="left:981.34px;top:36.50px;font-size:21.6px;color:#8a8a8a;transform:translateY(-50%) scaleX(1.1113)">时间</div>
<div class="t b" id="t6" style="left:1043.83px;top:35.60px;font-size:24.6px;color:#2b2b2b;transform:translateY(-50%) scaleX(0.9598)">15:00</div>
<div class="t b" id="t7" style="left:74.00px;top:103.81px;font-size:21.4px;color:#2b2b2b;transform:translateY(-50%) scaleX(1.0551)">分时</div>
<div class="t b" id="t8" style="left:191.00px;top:103.81px;font-size:21.4px;color:#2b2b2b;transform:translateY(-50%) scaleX(1.0848)">五日</div>
<div class="t b" id="t9" style="left:310.26px;top:103.81px;font-size:21.4px;color:#3e73c8;transform:translateY(-50%) scaleX(1.0672)">日<span class="k">K</span></div>
<div class="t b" id="t10" style="left:427.08px;top:103.81px;font-size:21.4px;color:#2b2b2b;transform:translateY(-50%) scaleX(1.0819)">周<span class="k">K</span></div>
<div class="t b" id="t11" style="left:545.91px;top:103.81px;font-size:21.4px;color:#2b2b2b;transform:translateY(-50%) scaleX(1.0229)">月<span class="k">K</span></div>
<div class="t b" id="t12" style="left:665.17px;top:103.81px;font-size:21.4px;color:#2b2b2b;transform:translateY(-50%) scaleX(0.9057)"><span class="n">1</span>分</div>
<div class="t b" id="t13" style="left:779.00px;top:103.81px;font-size:21.4px;color:#2b2b2b;transform:translateY(-50%) scaleX(0.9946)"><span class="n">5</span>分</div>
<div class="t b" id="t14" style="left:891.41px;top:103.81px;font-size:21.4px;color:#2b2b2b;transform:translateY(-50%) scaleX(0.9461)"><span class="n">15</span>分</div>
<div class="t b" id="t15" style="left:1005.91px;top:103.81px;font-size:21.4px;color:#2b2b2b;transform:translateY(-50%) scaleX(0.9891)"><span class="n">30</span>分</div>
<div class="t b" id="t16" style="left:1121.92px;top:103.81px;font-size:21.4px;color:#2b2b2b;transform:translateY(-50%) scaleX(1.0290)"><span class="n">60</span>分</div>
<div class="t" id="t17" style="left:135.06px;top:162.00px;font-size:19.6px;color:#9a9a9a;transform:translateY(-50%) scaleX(0.9759)">MA5: 3551.05</div>
<div class="t" id="t18" style="left:284.21px;top:162.00px;font-size:19.6px;color:#9a9a9a;transform:translateY(-50%) scaleX(0.9718)">MA10: 3572.90</div>
<div class="t" id="t19" style="left:442.56px;top:162.00px;font-size:19.6px;color:#9a9a9a;transform:translateY(-50%) scaleX(0.9763)">MA20: 3566.43</div>
<div class="t" id="t20" style="left:124.06px;top:224.84px;font-size:36.5px;color:#ea4b54;transform:translateY(-50%) scaleX(1.0092)">图例与下方均线颜色对应</div>
<div class="t" id="t21" style="left:45.73px;top:164.70px;font-size:15.8px;color:#8a8a8a;transform:translateY(-50%) scaleX(1.0202)">3637.10</div>
<div class="t" id="t22" style="left:45.78px;top:230.21px;font-size:15.8px;color:#8a8a8a;transform:translateY(-50%) scaleX(1.0043)">3528.41</div>
<div class="t" id="t23" style="left:45.73px;top:301.38px;font-size:15.8px;color:#8a8a8a;transform:translateY(-50%) scaleX(1.0238)">3419.72</div>
<div class="t" id="t24" style="left:45.64px;top:372.92px;font-size:15.8px;color:#8a8a8a;transform:translateY(-50%) scaleX(1.0402)">3311.03</div>
<div class="t" id="t25" style="left:45.77px;top:439.86px;font-size:15.8px;color:#8a8a8a;transform:translateY(-50%) scaleX(1.0164)">3202.34</div>
<div class="t" id="t26" style="left:65.96px;top:495.00px;font-size:19.2px;color:#8a8a8a;transform:translateY(-50%) scaleX(1.0248)">4.08</div>
<div class="t" id="t27" style="left:67.29px;top:581.50px;font-size:18.0px;color:#8a8a8a;transform:translateY(-50%) scaleX(1.0313)">亿手</div>
<div class="t" id="t28" style="left:124.64px;top:500.15px;font-size:14.7px;color:#8a8a8a;transform:translateY(-50%) scaleX(1.0314)">成交量</div>
<div class="t" id="t29" style="left:288.00px;top:468.00px;font-size:19.0px;color:#8a8a8a;transform:translateY(-50%) scaleX(1.0053)">2020-10</div>
<div class="t" id="t30" style="left:452.69px;top:468.00px;font-size:19.0px;color:#8a8a8a;transform:translateY(-50%) scaleX(0.9999)">2020-11</div>
<div class="t" id="t31" style="left:667.29px;top:468.00px;font-size:19.0px;color:#8a8a8a;transform:translateY(-50%) scaleX(1.0142)">2020-12</div>
<div class="t" id="t32" style="left:903.60px;top:468.00px;font-size:19.0px;color:#8a8a8a;transform:translateY(-50%) scaleX(0.9947)">2021-01</div>
<div class="t b" id="t33" style="left:1172.00px;top:182.92px;font-size:24.8px;color:#3e7ad0;transform:translateY(-50%) scaleX(1.0292)">成交量</div>
<div class="t b" id="t34" style="left:1184.86px;top:228.00px;font-size:24.0px;color:#2b2b2b;transform:translateY(-50%) scaleX(1.1180)">KDJ</div>
<div class="t b" id="t35" style="left:1171.27px;top:274.00px;font-size:24.0px;color:#2b2b2b;transform:translateY(-50%) scaleX(1.0782)">MACD</div>
<div class="t b" id="t36" style="left:1190.53px;top:320.98px;font-size:24.0px;color:#2b2b2b;transform:translateY(-50%) scaleX(0.9653)">RSI</div>
<svg class="chart" width="1280" height="612" viewBox="0 0 1280 612">
<rect x="89.4" y="126.55" width="575.5" height="59.1" fill="none" stroke="#e96d5e" stroke-width="4.8"/>
<path d="M327.2 56.1 L328.8 54.5 L398.9 121.8 L403.4 117.5 L408.5 134.9 L390.8 129.9 L395.3 125.4 Z" fill="#ee4a52"/>
</svg>
</body></html>
